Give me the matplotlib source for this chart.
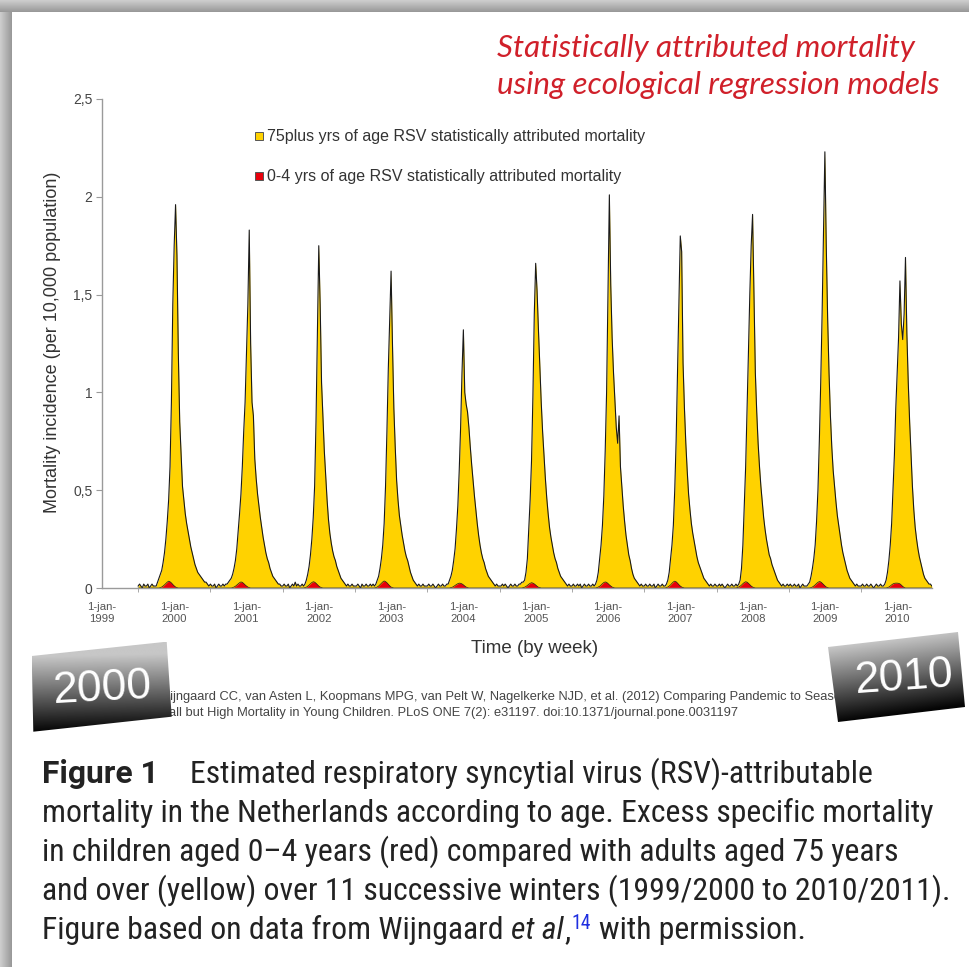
import numpy as np
import matplotlib
matplotlib.use('Agg')
import matplotlib.pyplot as plt
from matplotlib.patches import Polygon, Rectangle
from matplotlib import font_manager

# weekly RSV attributed mortality (per 10,000), 75plus yrs, one season per list, week 0 = 1 July
s1999_2000 = [0.01, 0.02, 0.01, 0.00, 0.02, 0.01, 0.01, 0.02, 0.00, 0.01, 0.02, 0.01, 0.01,
              0.01, 0.03, 0.05, 0.07, 0.09, 0.13, 0.18, 0.25, 0.34, 0.45, 0.62, 0.95, 1.45, 1.75,
              1.96,
              1.70, 1.20, 0.85, 0.68, 0.52, 0.45, 0.38, 0.33, 0.29, 0.25, 0.21, 0.18, 0.15, 0.12,
              0.10, 0.08, 0.07, 0.06, 0.05, 0.04, 0.03, 0.03, 0.02, 0.01]
s2000_2001 = [0.02, 0.01, 0.01, 0.02, 0.00, 0.01, 0.02, 0.01, 0.01, 0.02, 0.01, 0.02,
              0.02, 0.03, 0.04, 0.05, 0.07, 0.10, 0.14, 0.20, 0.29, 0.38, 0.48, 0.62, 0.80, 0.95, 1.20, 1.45,
              1.83,
              1.25, 0.95, 0.88, 0.66, 0.56, 0.48, 0.42, 0.36, 0.31, 0.26, 0.22, 0.18, 0.15, 0.13,
              0.10, 0.08, 0.06, 0.05, 0.04, 0.03, 0.02, 0.02, 0.01]
s2001_2002 = [0.01, 0.02, 0.01, 0.01, 0.02, 0.00, 0.01, 0.02, 0.01, 0.03, 0.01, 0.02, 0.01, 0.01, 0.02, 0.01,
              0.02, 0.04, 0.07, 0.11, 0.17, 0.25, 0.36, 0.52, 0.85, 1.30,
              1.75,
              1.45, 1.05, 0.88, 0.70, 0.57, 0.45, 0.35, 0.28, 0.23, 0.19, 0.16, 0.14, 0.11, 0.09,
              0.07, 0.05, 0.04, 0.03, 0.02, 0.01, 0.02, 0.01, 0.01, 0.02, 0.01]
s2002_2003 = [0.01, 0.01, 0.02, 0.01, 0.00, 0.02, 0.01, 0.01, 0.02, 0.01, 0.01, 0.02, 0.01, 0.02, 0.01,
              0.02, 0.04, 0.06, 0.10, 0.15, 0.22, 0.33, 0.52, 0.80, 1.12, 1.38,
              1.62,
              1.25, 0.92, 0.72, 0.55, 0.45, 0.37, 0.32, 0.27, 0.23, 0.19, 0.16, 0.14, 0.11, 0.08,
              0.06, 0.04, 0.03, 0.02, 0.01, 0.02, 0.01, 0.01, 0.02, 0.01, 0.01]
s2003_2004 = [0.01, 0.02, 0.01, 0.01, 0.02, 0.01, 0.00, 0.01, 0.02, 0.01, 0.01, 0.02, 0.01, 0.01, 0.02,
              0.02, 0.04, 0.06, 0.09, 0.14, 0.20, 0.30, 0.42, 0.60, 0.82, 1.10,
              1.32,
              1.00, 0.94, 0.90, 0.82, 0.72, 0.63, 0.55, 0.47, 0.40, 0.33, 0.27, 0.22, 0.18, 0.15,
              0.13, 0.10, 0.08, 0.06, 0.05, 0.04, 0.03, 0.02, 0.01, 0.02, 0.01]
s2004_2005 = [0.01, 0.01, 0.02, 0.01, 0.02, 0.01, 0.00, 0.01, 0.02, 0.01, 0.01, 0.02, 0.01, 0.01,
              0.02, 0.02, 0.03, 0.03, 0.04, 0.08, 0.15, 0.30, 0.45, 0.65, 0.98, 1.40,
              1.66,
              1.52, 1.32, 1.14, 0.95, 0.80, 0.68, 0.56, 0.46, 0.38, 0.31, 0.26, 0.22, 0.18, 0.15,
              0.13, 0.10, 0.08, 0.06, 0.05, 0.04, 0.03, 0.02, 0.01, 0.02, 0.01]
s2005_2006 = [0.01, 0.02, 0.01, 0.01, 0.02, 0.01, 0.02, 0.00, 0.01, 0.02, 0.01, 0.01, 0.02, 0.01, 0.01, 0.02, 0.01,
              0.02, 0.04, 0.08, 0.15, 0.22, 0.32, 0.47, 0.70, 1.00, 1.50,
              2.01,
              1.55, 1.28, 1.10, 0.96, 0.82, 0.74, 0.88, 0.62, 0.52, 0.42, 0.34, 0.27, 0.22, 0.17,
              0.14, 0.10, 0.07, 0.05, 0.04, 0.03, 0.02, 0.01, 0.02, 0.01]
s2006_2007 = [0.01, 0.02, 0.01, 0.01, 0.02, 0.01, 0.01, 0.02, 0.00, 0.01, 0.02, 0.01, 0.01, 0.02, 0.01, 0.01,
              0.02, 0.04, 0.08, 0.15, 0.22, 0.32, 0.50, 0.75, 1.10, 1.45,
              1.80,
              1.72, 1.15, 0.92, 0.74, 0.60, 0.48, 0.40, 0.33, 0.28, 0.24, 0.20, 0.16, 0.13, 0.11,
              0.09, 0.07, 0.05, 0.04, 0.03, 0.02, 0.01, 0.02, 0.01, 0.01, 0.02]
s2007_2008 = [0.01, 0.01, 0.02, 0.01, 0.02, 0.01, 0.00, 0.01, 0.02, 0.01, 0.01, 0.02, 0.01, 0.01, 0.02, 0.01,
              0.02, 0.04, 0.10, 0.22, 0.42, 0.62, 0.90, 1.20, 1.50, 1.75,
              1.91,
              1.50, 1.10, 0.90, 0.74, 0.62, 0.52, 0.44, 0.36, 0.30, 0.25, 0.21, 0.17, 0.15, 0.12,
              0.10, 0.08, 0.06, 0.04, 0.03, 0.02, 0.01, 0.02, 0.01, 0.01, 0.02]
s2008_2009 = [0.01, 0.02, 0.01, 0.01, 0.02, 0.01, 0.01, 0.02, 0.00, 0.01, 0.02, 0.01, 0.01, 0.01,
              0.02, 0.03, 0.06, 0.10, 0.15, 0.22, 0.34, 0.50, 0.75, 1.05, 1.40, 1.80,
              2.23,
              1.75, 1.38, 1.10, 0.88, 0.72, 0.60, 0.52, 0.44, 0.37, 0.32, 0.27, 0.22, 0.18, 0.15,
              0.12, 0.09, 0.07, 0.05, 0.04, 0.03, 0.02, 0.01, 0.02, 0.01, 0.01]
s2009_2010 = [0.01, 0.02, 0.01, 0.01, 0.02, 0.01, 0.01, 0.02, 0.01, 0.00, 0.01, 0.02, 0.01, 0.01, 0.02, 0.01, 0.01,
              0.02, 0.04, 0.08, 0.14, 0.22, 0.33, 0.50, 0.68, 0.92, 1.10, 1.28,
              1.57,
              1.35, 1.27, 1.40, 1.69, 1.30, 1.05, 0.85, 0.68, 0.52, 0.40, 0.31, 0.25, 0.20,
              0.16, 0.13, 0.10, 0.07, 0.05, 0.04, 0.03, 0.02, 0.02, 0.01]

# 0-4 yrs: the winter bump of each season, and the week it starts
r1999_2000 = [0.002, 0.005, 0.010, 0.016, 0.023, 0.030, 0.035, 0.032, 0.026, 0.018, 0.011, 0.005, 0.002]
r2000_2001 = [0.002, 0.005, 0.009, 0.015, 0.021, 0.027, 0.031, 0.029, 0.023, 0.016, 0.010, 0.005, 0.002]
r2001_2002 = [0.002, 0.004, 0.009, 0.015, 0.022, 0.028, 0.032, 0.030, 0.024, 0.017, 0.010, 0.005, 0.002]
r2002_2003 = [0.002, 0.005, 0.010, 0.017, 0.024, 0.031, 0.036, 0.033, 0.027, 0.019, 0.011, 0.005, 0.002]
r2003_2004 = [0.002, 0.004, 0.008, 0.013, 0.018, 0.022, 0.025, 0.024, 0.021, 0.016, 0.010, 0.005, 0.002]
r2004_2005 = [0.002, 0.004, 0.008, 0.013, 0.019, 0.024, 0.027, 0.025, 0.021, 0.015, 0.009, 0.004, 0.002]
r2005_2006 = [0.002, 0.005, 0.009, 0.015, 0.022, 0.028, 0.031, 0.029, 0.023, 0.016, 0.010, 0.005, 0.002]
r2006_2007 = [0.002, 0.005, 0.010, 0.016, 0.024, 0.031, 0.035, 0.032, 0.025, 0.017, 0.010, 0.005, 0.002]
r2007_2008 = [0.002, 0.005, 0.009, 0.015, 0.022, 0.028, 0.032, 0.030, 0.024, 0.017, 0.010, 0.005, 0.002]
r2008_2009 = [0.002, 0.005, 0.010, 0.016, 0.023, 0.029, 0.033, 0.031, 0.025, 0.018, 0.011, 0.005, 0.002]
r2009_2010 = [0.002, 0.005, 0.010, 0.016, 0.021, 0.024, 0.025, 0.025, 0.024, 0.021, 0.015, 0.008, 0.003]
red_onset = [16, 16, 16, 15, 17, 17, 18, 16, 15, 16, 19]

first_season = 1999
tick_years = list(range(1999, 2011))
tick_labels = ['1-jan-\n%d' % y for y in tick_years]
ytick_vals = [0, 0.5, 1, 1.5, 2, 2.5]
ytick_labels = ['0', '0,5', '1', '1,5', '2', '2,5']

yellow_seasons = [s1999_2000, s2000_2001, s2001_2002, s2002_2003, s2003_2004, s2004_2005,
                  s2005_2006, s2006_2007, s2007_2008, s2008_2009, s2009_2010]
red_seasons = [r1999_2000, r2000_2001, r2001_2002, r2002_2003, r2003_2004, r2004_2005,
               r2005_2006, r2006_2007, r2007_2008, r2008_2009, r2009_2010]

t, old, young = [], [], []
for k, (ys, rs, on) in enumerate(zip(yellow_seasons, red_seasons, red_onset)):
    rr = [0.0] * len(ys)
    rr[on:on + len(rs)] = rs
    for w in range(len(ys)):
        t.append(first_season + k + 0.5 + w / 52.18)
    old.extend(ys)
    young.extend(rr)
t = np.array(t); old = np.array(old); young = np.array(young)

names = {f.name for f in font_manager.fontManager.ttflist}
def pick(cands):
    for c in cands:
        if c in names:
            return c
    return 'DejaVu Sans'
sans = pick(['Liberation Sans', 'Arial', 'DejaVu Sans'])
cap_font = pick(['Roboto Condensed', 'Liberation Sans Narrow', 'Roboto'])
fig_font = pick(['Roboto', 'Liberation Sans'])
title_font = pick(['Lato', 'Open Sans'])

W, H = 970, 967
fig = plt.figure(figsize=(W / 100, H / 100), dpi=100)
fig.patch.set_facecolor('white')

# main chart
ax = fig.add_axes([102 / W, 1 - 588 / H, 830 / W, 489 / H])
ax.fill_between(t, 0, old, color='#FFD200', lw=0)
ax.plot(t, old, color='#1a1a1a', lw=0.8)
ax.fill_between(t, 0, young, color='#E8000B', lw=0)
ax.plot(t, young, color='#1a1a1a', lw=0.5)

ax.set_xlim(1999.0, 2010.48)
ax.set_ylim(0, 2.5)
for s in ['top', 'right']:
    ax.spines[s].set_visible(False)
for s in ['left', 'bottom']:
    ax.spines[s].set_color('#9a9a9a')
    ax.spines[s].set_linewidth(1.0)
ax.set_yticks(ytick_vals)
ax.set_yticklabels(ytick_labels, fontsize=10, color='#444444', family=sans)
ax.tick_params(axis='y', length=4, color='#9a9a9a', pad=3)
ax.set_xticks(tick_years)
ax.set_xticklabels(tick_labels, fontsize=8.2, color='#555555', family=sans, linespacing=1.25)
ax.tick_params(axis='x', length=0, pad=10)
ax.set_xticks([y + 0.5 for y in tick_years[:-1]], minor=True)
ax.tick_params(axis='x', which='minor', length=3, color='#9a9a9a')
ax.set_ylabel('Mortality incidence (per 10,000 population)', fontsize=13, color='#333333',
              family=sans, va='center')
ax.yaxis.set_label_coords(-0.060, 0.502)
ax.set_xlabel('Time (by week)', fontsize=13.5, color='#333333', family=sans, va='center')
ax.xaxis.set_label_coords(0.521, -0.123)

# overlay in pixel coordinates for the surrounding page
ov = fig.add_axes([0, 0, 1, 1])
ov.axis('off')

# grey page shadow, top and left
g = np.linspace(0.80, 0.60, 12)
ov.imshow(g[None, :], extent=(0, 12, H, 0), cmap='gray', vmin=0, vmax=1, aspect='auto', zorder=1)
ov.imshow(g[:, None], extent=(0, W, 12, 0), cmap='gray', vmin=0, vmax=1, aspect='auto', zorder=1)

r = fig.canvas.get_renderer()

def width(txt):
    return txt.get_window_extent(renderer=r).width

# red heading, fitted to the width of its second line
tt = ov.text(497, 94, 'using ecological regression models', fontsize=16, style='italic',
             family=title_font, color='#d0202a', va='baseline')
fs = 16 * 443 / width(tt)
tt.set_fontsize(fs)
ov.text(497, 57, 'Statistically attributed mortality', fontsize=fs, style='italic',
        family=title_font, color='#d0202a', va='baseline')

# legend
for yc, col, lab in [(136, '#FFD200', '75plus yrs of age RSV statistically attributed mortality'),
                     (176, '#E8000B', '0-4 yrs of age RSV statistically attributed mortality')]:
    ov.add_patch(Rectangle((255, yc - 4), 8, 8, facecolor=col, edgecolor='#555555', lw=0.7, zorder=3))
    ov.text(267, yc, lab, fontsize=11.5, color='#333333', family=sans, va='center')

# citation under the chart (partly hidden by the badges)
ov.text(158, 697, 'Wijngaard CC, van Asten L, Koopmans MPG, van Pelt W, Nagelkerke NJD, et al. (2012) '
        'Comparing Pandemic to Seasonal Influenza', fontsize=9.3,
        color='#444444', family=sans, va='center', zorder=2)
ov.text(141, 713, 'Overall but High Mortality in Young Children. PLoS ONE 7(2): e31197. '
        'doi:10.1371/journal.pone.0031197', fontsize=9.3, color='#444444', family=sans,
        va='center', zorder=2)

# year badges
def badge(corners, label, cx, cy, rot):
    c = np.array(corners, dtype=float)
    x0, x1 = c[:, 0].min(), c[:, 0].max()
    y0, y1 = c[:, 1].min(), c[:, 1].max()
    xs, ys = np.meshgrid(np.linspace(x0, x1, 200), np.linspace(y0, y1, 200))
    top = c[0]; nrm = (c[3] - c[0]) / np.linalg.norm(c[3] - c[0])
    depth = np.linalg.norm(c[3] - c[0])
    f = np.clip(((xs - top[0]) * nrm[0] + (ys - top[1]) * nrm[1]) / depth, 0, 1)
    img = ov.imshow(0.78 - 0.76 * f, extent=(x0, x1, y1, y0), cmap='gray', vmin=0, vmax=1,
                    aspect='auto', zorder=5)
    poly = Polygon(c, closed=True, facecolor='none', edgecolor='none', transform=ov.transData)
    ov.add_patch(poly)
    img.set_clip_path(poly)
    ov.text(cx, cy, label, fontsize=32, color='white', family=sans, ha='center', va='center',
            rotation=rot, zorder=6)

badge([(31.7, 656), (166.7, 641.7), (171.7, 716.7), (33.3, 731.7)], '2000', 103, 689, 3)
badge([(828, 647), (958, 632), (965, 707), (838, 722)], '2010', 904, 678, 4)

# figure caption
cap_lines = ['mortality in the Netherlands according to age. Excess specific mortality',
             'in children aged 0\u20134 years (red) compared with adults aged 75 years',
             'and over (yellow) over 11 successive winters (1999/2000 to 2010/2011).']
probe = ov.text(42, 822, cap_lines[0], fontsize=18, family=cap_font, color='#222222', va='baseline')
cfs = 18 * 893 / width(probe)
probe.set_fontsize(cfs)
ov.text(42, 861, cap_lines[1], fontsize=cfs, family=cap_font, color='#222222', va='baseline')
ov.text(42, 900, cap_lines[2], fontsize=cfs, family=cap_font, color='#222222', va='baseline')

def runs(x, y, parts):
    for txt, kw, gap in parts:
        a = dict(fontsize=cfs, family=cap_font, color='#222222', va='baseline')
        a.update(kw)
        dy = a.pop('dy', 0)
        tx = ov.text(x, y + dy, txt, **a)
        x += width(tx) + gap

sp = cfs * 100 / 72 * 0.25
ov.text(42, 783, 'Figure 1', fontsize=cfs, family=fig_font, fontweight='bold', color='#222222',
        va='baseline')
ov.text(190, 783, 'Estimated respiratory syncytial virus (RSV)-attributable', fontsize=cfs,
        family=cap_font, color='#222222', va='baseline')
runs(42, 939, [('Figure based on data from Wijngaard', {}, sp),
               ('et al', dict(style='italic'), 0),
               (',', {}, 1),
               ('14', dict(fontsize=cfs * 0.62, color='#1f2fe0', dy=-10), sp),
               ('with permission.', {}, 0)])

ov.set_xlim(0, W)
ov.set_ylim(H, 0)

fig.savefig('out.png', dpi=100, facecolor='white')
